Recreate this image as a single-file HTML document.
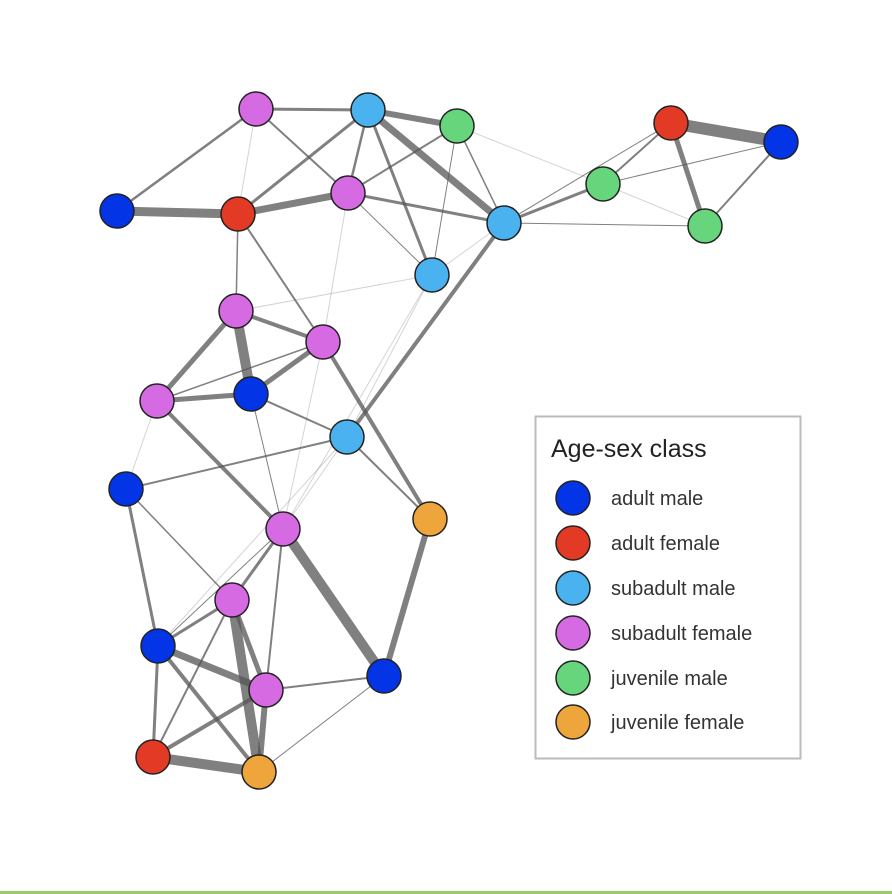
<!DOCTYPE html>
<html><head><meta charset="utf-8"><style>
html,body{margin:0;padding:0;background:#fff;}
svg{display:block;font-family:"Liberation Sans",sans-serif;}
</style></head><body>
<svg width="892" height="894" viewBox="0 0 892 894" xmlns="http://www.w3.org/2000/svg">
<rect width="892" height="894" fill="#fff"/>
<g stroke="#555" stroke-linecap="round" fill="none">
<g stroke-opacity="0.75">
<line x1="256" y1="109" x2="368" y2="110" stroke-width="3"/>
<line x1="256" y1="109" x2="117" y2="211" stroke-width="2.5"/>
<line x1="256" y1="109" x2="348" y2="193" stroke-width="2"/>
<line x1="368" y1="110" x2="457" y2="126" stroke-width="6"/>
<line x1="368" y1="110" x2="238" y2="214" stroke-width="3"/>
<line x1="368" y1="110" x2="348" y2="193" stroke-width="2.5"/>
<line x1="368" y1="110" x2="432" y2="275" stroke-width="3"/>
<line x1="368" y1="110" x2="504" y2="223" stroke-width="7"/>
<line x1="457" y1="126" x2="348" y2="193" stroke-width="2"/>
<line x1="457" y1="126" x2="432" y2="275" stroke-width="1"/>
<line x1="457" y1="126" x2="504" y2="223" stroke-width="1.5"/>
<line x1="117" y1="211" x2="238" y2="214" stroke-width="9"/>
<line x1="238" y1="214" x2="348" y2="193" stroke-width="7"/>
<line x1="348" y1="193" x2="504" y2="223" stroke-width="3"/>
<line x1="348" y1="193" x2="432" y2="275" stroke-width="1"/>
<line x1="238" y1="214" x2="236" y2="311" stroke-width="1.5"/>
<line x1="238" y1="214" x2="323" y2="342" stroke-width="2"/>
<line x1="236" y1="311" x2="323" y2="342" stroke-width="4"/>
<line x1="236" y1="311" x2="251" y2="394" stroke-width="10"/>
<line x1="236" y1="311" x2="157" y2="401" stroke-width="5"/>
<line x1="157" y1="401" x2="251" y2="394" stroke-width="5"/>
<line x1="157" y1="401" x2="323" y2="342" stroke-width="1.5"/>
<line x1="251" y1="394" x2="323" y2="342" stroke-width="5"/>
<line x1="251" y1="394" x2="347" y2="437" stroke-width="2"/>
<line x1="251" y1="394" x2="283" y2="529" stroke-width="1"/>
<line x1="323" y1="342" x2="430" y2="519" stroke-width="4"/>
<line x1="504" y1="223" x2="347" y2="437" stroke-width="4"/>
<line x1="347" y1="437" x2="126" y2="489" stroke-width="2"/>
<line x1="347" y1="437" x2="430" y2="519" stroke-width="2"/>
<line x1="157" y1="401" x2="283" y2="529" stroke-width="4"/>
<line x1="504" y1="223" x2="603" y2="184" stroke-width="3"/>
<line x1="603" y1="184" x2="671" y2="123" stroke-width="2"/>
<line x1="603" y1="184" x2="781" y2="142" stroke-width="1"/>
<line x1="504" y1="223" x2="671" y2="123" stroke-width="1"/>
<line x1="504" y1="223" x2="705" y2="226" stroke-width="1"/>
<line x1="671" y1="123" x2="781" y2="142" stroke-width="12"/>
<line x1="671" y1="123" x2="705" y2="226" stroke-width="5"/>
<line x1="781" y1="142" x2="705" y2="226" stroke-width="2"/>
<line x1="126" y1="489" x2="158" y2="646" stroke-width="3"/>
<line x1="126" y1="489" x2="232" y2="600" stroke-width="1.5"/>
<line x1="283" y1="529" x2="232" y2="600" stroke-width="3"/>
<line x1="283" y1="529" x2="266" y2="690" stroke-width="2"/>
<line x1="283" y1="529" x2="384" y2="676" stroke-width="10"/>
<line x1="283" y1="529" x2="158" y2="646" stroke-width="1"/>
<line x1="430" y1="519" x2="384" y2="676" stroke-width="6"/>
<line x1="232" y1="600" x2="259" y2="772" stroke-width="10"/>
<line x1="232" y1="600" x2="266" y2="690" stroke-width="5"/>
<line x1="232" y1="600" x2="158" y2="646" stroke-width="3"/>
<line x1="232" y1="600" x2="153" y2="757" stroke-width="2"/>
<line x1="158" y1="646" x2="266" y2="690" stroke-width="7"/>
<line x1="158" y1="646" x2="153" y2="757" stroke-width="3"/>
<line x1="158" y1="646" x2="259" y2="772" stroke-width="4"/>
<line x1="266" y1="690" x2="153" y2="757" stroke-width="4"/>
<line x1="266" y1="690" x2="384" y2="676" stroke-width="2"/>
<line x1="266" y1="690" x2="259" y2="772" stroke-width="6"/>
<line x1="153" y1="757" x2="259" y2="772" stroke-width="10"/>
<line x1="384" y1="676" x2="259" y2="772" stroke-width="1"/>
</g>
<g stroke-opacity="0.25" stroke-width="1">
<line x1="256" y1="109" x2="238" y2="214"/>
<line x1="457" y1="126" x2="603" y2="184"/>
<line x1="348" y1="193" x2="323" y2="342"/>
<line x1="432" y1="275" x2="236" y2="311"/>
<line x1="432" y1="275" x2="504" y2="223"/>
<line x1="432" y1="275" x2="347" y2="437"/>
<line x1="432" y1="275" x2="283" y2="529"/>
<line x1="157" y1="401" x2="126" y2="489"/>
<line x1="347" y1="437" x2="283" y2="529"/>
<line x1="347" y1="437" x2="158" y2="646"/>
<line x1="323" y1="342" x2="283" y2="529"/>
<line x1="603" y1="184" x2="705" y2="226"/>
</g>
</g>
<g stroke="#222" stroke-width="1.5">
<circle cx="256" cy="109" r="17" fill="#d66ae2"/>
<circle cx="368" cy="110" r="17" fill="#4ab2ee"/>
<circle cx="457" cy="126" r="17" fill="#66d57c"/>
<circle cx="117" cy="211" r="17" fill="#0335e6"/>
<circle cx="238" cy="214" r="17" fill="#e33a26"/>
<circle cx="348" cy="193" r="17" fill="#d66ae2"/>
<circle cx="504" cy="223" r="17" fill="#4ab2ee"/>
<circle cx="432" cy="275" r="17" fill="#4ab2ee"/>
<circle cx="603" cy="184" r="17" fill="#66d57c"/>
<circle cx="671" cy="123" r="17" fill="#e33a26"/>
<circle cx="781" cy="142" r="17" fill="#0335e6"/>
<circle cx="705" cy="226" r="17" fill="#66d57c"/>
<circle cx="236" cy="311" r="17" fill="#d66ae2"/>
<circle cx="323" cy="342" r="17" fill="#d66ae2"/>
<circle cx="157" cy="401" r="17" fill="#d66ae2"/>
<circle cx="251" cy="394" r="17" fill="#0335e6"/>
<circle cx="347" cy="437" r="17" fill="#4ab2ee"/>
<circle cx="126" cy="489" r="17" fill="#0335e6"/>
<circle cx="430" cy="519" r="17" fill="#eea53b"/>
<circle cx="283" cy="529" r="17" fill="#d66ae2"/>
<circle cx="232" cy="600" r="17" fill="#d66ae2"/>
<circle cx="158" cy="646" r="17" fill="#0335e6"/>
<circle cx="266" cy="690" r="17" fill="#d66ae2"/>
<circle cx="384" cy="676" r="17" fill="#0335e6"/>
<circle cx="153" cy="757" r="17" fill="#e33a26"/>
<circle cx="259" cy="772" r="17" fill="#eea53b"/>
</g>
<rect x="535.5" y="416.5" width="265" height="342" fill="#fff" stroke="#bbb" stroke-width="2"/>
<text x="551" y="457" font-size="25" fill="#222">Age-sex class</text>
<g stroke="#222" stroke-width="1.5">
<circle cx="573" cy="498" r="17" fill="#0335e6"/>
<circle cx="573" cy="543" r="17" fill="#e33a26"/>
<circle cx="573" cy="588" r="17" fill="#4ab2ee"/>
<circle cx="573" cy="633" r="17" fill="#d66ae2"/>
<circle cx="573" cy="678" r="17" fill="#66d57c"/>
<circle cx="573" cy="722" r="17" fill="#eea53b"/>
</g>
<g font-size="20" fill="#333">
<text x="611" y="505">adult male</text>
<text x="611" y="550">adult female</text>
<text x="611" y="595">subadult male</text>
<text x="611" y="640">subadult female</text>
<text x="611" y="685">juvenile male</text>
<text x="611" y="729">juvenile female</text>
</g>
<rect x="0" y="891" width="892" height="3" fill="#9bcb6b"/>
</svg>
</body></html>
